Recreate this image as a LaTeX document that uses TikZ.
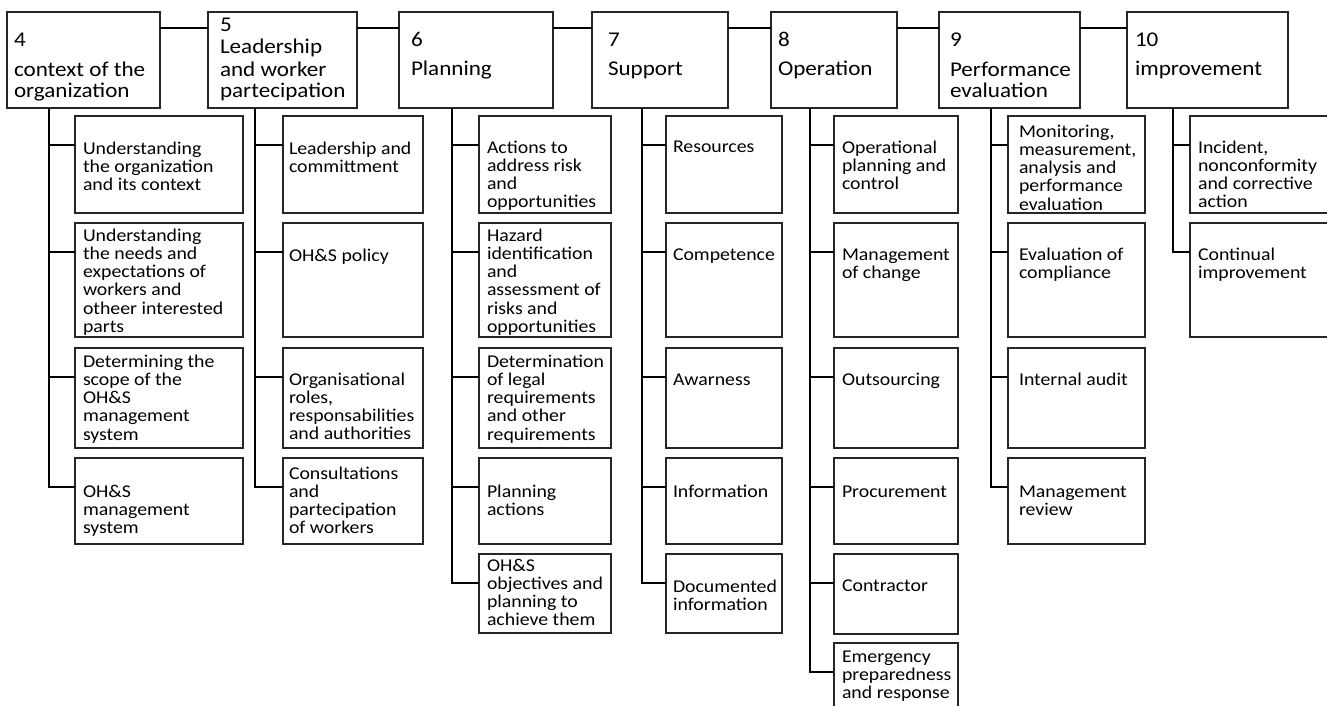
\documentclass[tikz,border=0pt]{standalone}
\usepackage{fontspec}
\setmainfont{Carlito}[FakeStretch=1.1]
\begin{document}
\begin{tikzpicture}[x=1pt,y=-1pt,
  box/.style={draw=black!85, line width=1.3pt, fill=white, anchor=north west, inner sep=0pt, outer sep=0pt},
  link/.style={line width=2pt, draw=black},
  headtext/.style={anchor=north west, inner sep=0pt, outer sep=0pt, align=left, font=\fontsize{21}{22}\selectfont},
  itemtext/.style={anchor=north west, inner sep=0pt, outer sep=0pt, align=left, font=\fontsize{18}{18.3}\selectfont}]

% clause box: name, x, width, text x offset, text y offset, text
\newcommand\headbox[6]{%
  \node[box, minimum width=#3pt, minimum height=96pt] (#1) at (#2,12) {};
  \node[headtext] (#1-t) at ([xshift=#4pt, yshift=#5pt]#1.north west) {\rule{0pt}{20pt}#6};
}
% sub-clause box: name, x, top, width, height, text x offset, text y offset, text
\newcommand\itembox[8]{%
  \node[box, minimum width=#4pt, minimum height=#5pt] (#1) at (#2,#3) {};
  \coordinate (#1-p) at ([yshift=-29pt]#1.north west);
  \node[itemtext] (#1-t) at ([xshift=#6pt, yshift=#7pt]#1.north west) {\rule{0pt}{18pt}#8};
}

\fill[white] (0,0) rectangle (1327,706);
\useasboundingbox (0,0) rectangle (1327,706);
\clip (0,0) rectangle (1327,706);

% clauses
\headbox{b4}{7}{153}{7}{-15}{4\\[7pt]context of the\\organization}
\headbox{b5}{208}{149}{12}{0}{5\\Leadership\\and worker\\partecipation}
\headbox{b6}{399}{154}{12}{-15}{6\\[7pt]Planning}
\headbox{b7}{592}{136}{16}{-15}{7\\[7pt]Support}
\headbox{b8}{771}{126}{7}{-15}{8\\[7pt]Operation}
\headbox{b9}{939}{141}{11}{-15}{9\\[7pt]Performance\\evaluation}
\headbox{b10}{1127}{161}{8}{-15}{10\\[7pt]improvement}

% trunk origins under each clause
\coordinate (t4) at ([xshift=42pt]b4.south west);
\coordinate (t5) at ([xshift=47pt]b5.south west);
\coordinate (t6) at ([xshift=53pt]b6.south west);
\coordinate (t7) at ([xshift=50pt]b7.south west);
\coordinate (t8) at ([xshift=39pt]b8.south west);
\coordinate (t9) at ([xshift=52pt]b9.south west);
\coordinate (t10) at ([xshift=46pt]b10.south west);

% clause 4
\itembox{c41}{75}{116}{168}{97}{8}{-20}{Understanding\\the organization\\and its context}
\itembox{c42}{75}{223}{168}{114}{8}{0}{Understanding\\the needs and\\expectations of\\workers and\\otheer interested\\parts}
\itembox{c43}{75}{348}{168}{100}{8}{-1}{Determining the\\scope of the\\OH\&S\\management\\system}
\itembox{c44}{75}{458}{168}{86}{8}{-21}{OH\&S\\management\\system}
% clause 5
\itembox{c51}{283}{116}{140}{97}{6}{-20}{Leadership and\\committment}
\itembox{c52}{283}{223}{140}{114}{6}{-20}{OH\&S policy}
\itembox{c53}{283}{348}{140}{100}{6}{-19}{Organisational\\roles,\\responsabilities\\and authorities}
\itembox{c54}{283}{458}{140}{86}{6}{-3}{Consultations\\and\\partecipation\\of workers}
% clause 6
\itembox{c61}{479}{116}{132}{97}{8}{-19}{Actions to\\address risk\\and\\opportunities}
\itembox{c62}{479}{223}{132}{114}{8}{0}{Hazard\\identification\\and\\assessment of\\risks and\\opportunities}
\itembox{c63}{479}{348}{132}{100}{8}{-1}{Determination\\of legal\\requirements\\and other\\requirements}
\itembox{c64}{479}{458}{132}{86}{8}{-21}{Planning\\actions}
\itembox{c65}{479}{554}{132}{79}{8}{1}{OH\&S\\objectives and\\planning to\\achieve them}
% clause 7
\itembox{c71}{666}{116}{116}{97}{7}{-19}{Resources}
\itembox{c72}{666}{223}{116}{114}{7}{-19}{Competence}
\itembox{c73}{666}{348}{116}{100}{7}{-19}{Awarness}
\itembox{c74}{666}{458}{116}{86}{7}{-21}{Information}
\itembox{c75}{666}{554}{116}{79}{7}{-20}{Documented\\information}
% clause 8
\itembox{c81}{834}{116}{124}{97}{8}{-19}{Operational\\planning and\\control}
\itembox{c82}{834}{223}{124}{114}{8}{-19}{Management\\of change}
\itembox{c83}{834}{348}{124}{100}{8}{-19}{Outsourcing}
\itembox{c84}{834}{458}{124}{86}{8}{-21}{Procurement}
\itembox{c85}{834}{554}{124}{80}{8}{-19}{Contractor}
\itembox{c86}{834}{643}{124}{80}{8}{-1}{Emergency\\preparedness\\and response}
% clause 9
\itembox{c91}{1008}{116}{137}{97}{11}{-3}{Monitoring,\\measurement,\\analysis and\\performance\\evaluation}
\itembox{c92}{1008}{223}{137}{114}{11}{-19}{Evaluation of\\compliance}
\itembox{c93}{1008}{348}{137}{100}{11}{-19}{Internal audit}
\itembox{c94}{1008}{458}{137}{86}{11}{-21}{Management\\review}
% clause 10
\itembox{c101}{1190}{116}{150}{97}{8}{-19}{Incident,\\nonconformity\\and corrective\\action}
\itembox{c102}{1190}{223}{150}{114}{8}{-19}{Continual\\improvement}

% chain of clauses
\foreach \a/\b in {b4/b5,b5/b6,b6/b7,b7/b8,b8/b9,b9/b10}
  \draw[link] ([yshift=-16pt]\a.north east) -- ([yshift=-16pt]\b.north west);

% trunks ending at the last sub-clause, branches to the others
\foreach \t/\last in {t4/c44,t5/c54,t6/c65,t7/c75,t8/c86,t9/c94,t10/c102}
  \draw[link] (\t) |- (\last-p);
\foreach \t/\items in {t4/{c41,c42,c43},t5/{c51,c52,c53},t6/{c61,c62,c63,c64},
                       t7/{c71,c72,c73,c74},t8/{c81,c82,c83,c84,c85},t9/{c91,c92,c93},t10/{c101}}
  \foreach \nm in \items
    \draw[link] (\nm-p -| \t) -- (\nm-p);
\end{tikzpicture}
\end{document}
